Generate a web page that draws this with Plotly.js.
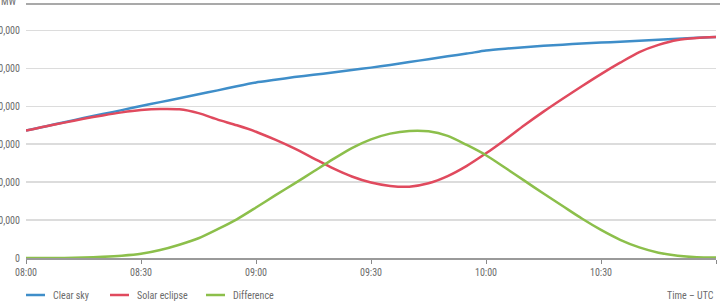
<!DOCTYPE html>
<html>
<head>
<meta charset="utf-8">
<script src="https://cdn.plot.ly/plotly-3.0.1.min.js"></script>
<style>
  html, body { margin: 0; padding: 0; background: #ffffff; }
  #chart { width: 720px; height: 305px; }
  .main-svg text { font-stretch: condensed; }
</style>
</head>
<body>
<div id="chart"></div>
<script>
// Time (UTC), 5-minute steps, 08:00 - 11:00
const times = [
  "08:00","08:05","08:10","08:15","08:20","08:25","08:30","08:35","08:40","08:45",
  "08:50","08:55","09:00","09:05","09:10","09:15","09:20","09:25","09:30","09:35",
  "09:40","09:45","09:50","09:55","10:00","10:05","10:10","10:15","10:20","10:25",
  "10:30","10:35","10:40","10:45","10:50","10:55","11:00"
];

// MW
const clearSky = [
  33600, 34700, 35800, 36900, 37950, 39000, 40100, 41100, 42100, 43200,
  44200, 45300, 46300, 47000, 47700, 48300, 48900, 49600, 50200, 50900,
  51700, 52400, 53200, 53900, 54700, 55200, 55600, 55950, 56250, 56550,
  56800, 57050, 57300, 57550, 57800, 58050, 58250
];

const solarEclipse = [
  33600, 34700, 35700, 36700, 37600, 38400, 39000, 39300, 39200, 38200,
  36500, 35000, 33300, 31200, 28900, 26300, 23700, 21500, 19900, 19000,
  18800, 19700, 21600, 24300, 27600, 31200, 35000, 38600, 42000, 45300,
  48500, 51500, 54300, 56200, 57500, 58000, 58250
];

const difference = [
  0, 0, 0, 100, 300, 600, 1100, 2100, 3500, 5200,
  7600, 10200, 13300, 16500, 19600, 22800, 26000, 29000, 31300, 32800,
  33500, 33400, 32200, 29800, 27100, 23800, 20400, 17000, 13700, 10400,
  7400, 4800, 2800, 1400, 600, 200, 100
];

const yTicks = [0, 10000, 20000, 30000, 40000, 50000, 60000];
const xTicks = ["08:00","08:30","09:00","09:30","10:00","10:30","11:00"];

const seriesNames = ["Clear sky", "Solar eclipse", "Difference"];
const seriesColors = ["#3f8ec9", "#e04a5e", "#8cbf4b"];

const day = "2015-03-20 ";
const xs = times.map(t => day + t + ":00");

const FONT = "'Roboto Condensed', 'Liberation Sans Narrow', Roboto, sans-serif";
const FS = 10;
const TXT = "#6b6b6b";

const seriesData = [clearSky, solarEclipse, difference];
const traces = seriesData.map((ys, i) => ({
  type: "scatter",
  mode: "lines",
  x: xs,
  y: ys,
  name: seriesNames[i],
  line: { color: seriesColors[i], width: 2.5, shape: "spline", smoothing: 0.7 },
  showlegend: false,
  hoverinfo: "x+y+name"
}));

// manual legend (styling only)
const legendX = [26, 110, 206];
const shapes = [
  { type: "line", xref: "paper", yref: "paper",
    x0: 0, x1: 1 + 4 / 690, y0: 1, y1: 1,
    line: { color: "#8c8c8c", width: 1.5 } }
];
const annotations = [
  { xref: "paper", yref: "paper", x: 0, y: 1, xanchor: "right", yanchor: "middle",
    xshift: -7, yshift: 3, text: "MW", showarrow: false,
    font: { family: FONT, size: FS, color: TXT } },
  { xref: "paper", yref: "paper", x: 1, y: 0, xanchor: "right", yanchor: "middle",
    xshift: 0, yshift: -37, text: "Time – UTC", showarrow: false,
    font: { family: FONT, size: FS, color: TXT } }
];
seriesNames.forEach((n, i) => {
  const px0 = (legendX[i] - 26) / 690;
  const px1 = (legendX[i] + 19 - 26) / 690;
  shapes.push({ type: "line", xref: "paper", yref: "paper",
    x0: px0, x1: px1, y0: -37 / 254, y1: -37 / 254,
    line: { color: seriesColors[i], width: 2.5 } });
  annotations.push({ xref: "paper", yref: "paper",
    x: (legendX[i] + 25 - 26) / 690, y: 0, xanchor: "left", yanchor: "middle",
    yshift: -37, text: n, showarrow: false,
    font: { family: FONT, size: FS, color: TXT } });
});

const layout = {
  width: 720,
  height: 305,
  margin: { l: 26, r: 4, t: 4, b: 47, pad: 0 },
  paper_bgcolor: "#ffffff",
  plot_bgcolor: "#ffffff",
  font: { family: FONT, size: FS, color: TXT },
  showlegend: false,
  xaxis: {
    type: "date",
    range: [day + "08:00:00", day + "11:00:00"],
    tickvals: xTicks.map(t => day + t + ":00"),
    ticktext: xTicks,
    showgrid: false,
    zeroline: false,
    showline: true,
    linecolor: "#9a9a9a",
    linewidth: 2,
    ticks: "outside",
    ticklen: 4,
    tickwidth: 1,
    tickcolor: "#8a8a8a",
    tickfont: { family: FONT, size: FS, color: TXT },
    automargin: false,
    fixedrange: true
  },
  yaxis: {
    range: [0, 66980],
    tickvals: yTicks,
    tickformat: ",d",
    showgrid: true,
    gridcolor: "#dcdcdc",
    gridwidth: 1.5,
    zeroline: false,
    showline: false,
    ticks: "",
    ticklabelstandoff: 5,
    tickfont: { family: FONT, size: FS, color: TXT },
    automargin: false,
    fixedrange: true
  },
  shapes: shapes,
  annotations: annotations
};

Plotly.newPlot("chart", traces, layout, { displayModeBar: false, staticPlot: true });
</script>
</body>
</html>
